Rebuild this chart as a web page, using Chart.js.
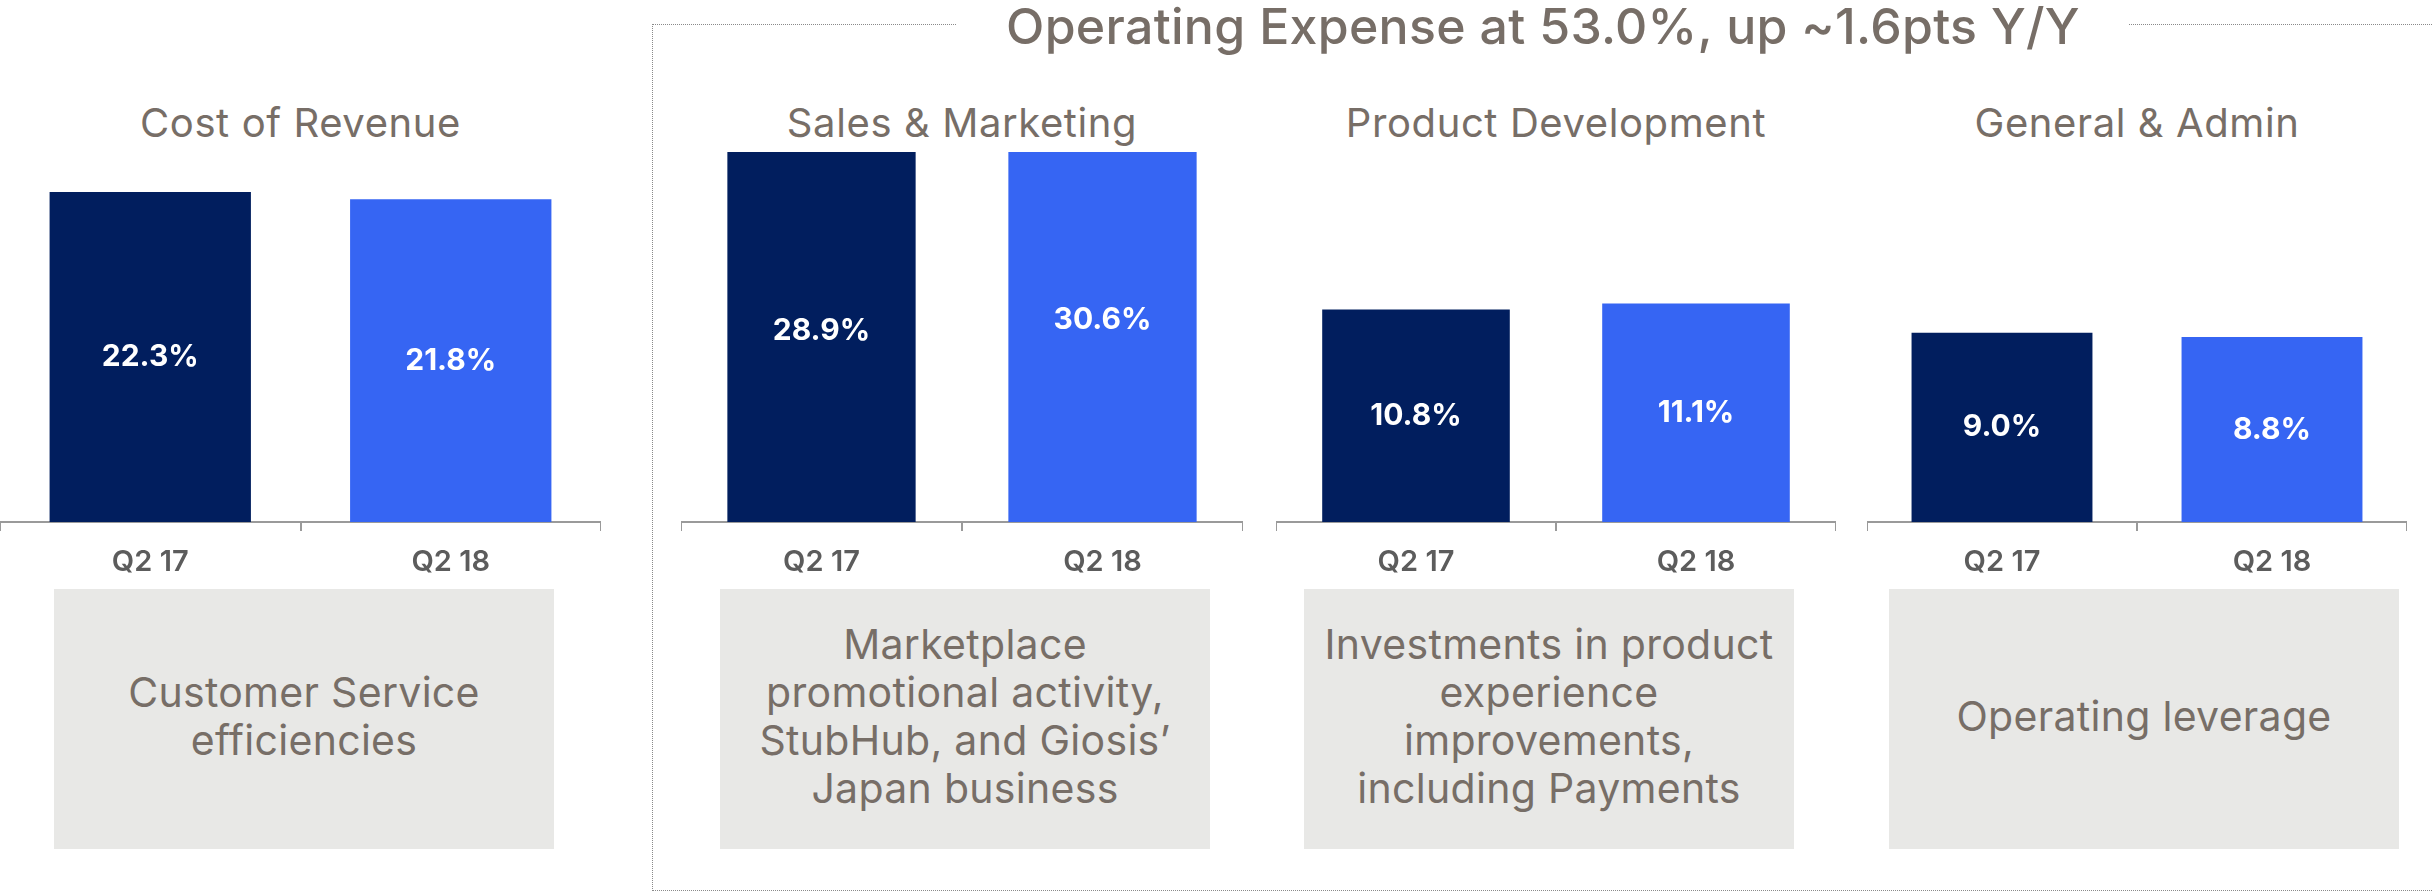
<!DOCTYPE html>
<html>
<head>
<meta charset="utf-8">
<script src="https://cdn.jsdelivr.net/npm/chart.js@4"></script>
<style>
  html, body { margin: 0; padding: 0; background: #fff; }
  body { width: 2432px; height: 893px; position: relative; overflow: hidden; font-family: Inter, 'Noto Sans', sans-serif; }
  .abs { position: absolute; }
  .frame { left: 652px; top: 24px; width: 1900px; height: 867px; border: 1px dotted #8a8a8a; box-sizing: border-box; }
  .headline { top: 1px; left: 957px; width: 1172px; height: 50px; background: #fff; text-align: center;
    font-size: 50px; line-height: 50px; font-weight: 500; letter-spacing: 0.3px; color: #776e67; white-space: nowrap; }
  .ptitle { top: 103px; width: 600px; text-align: center; font-size: 40px; line-height: 40px; letter-spacing: 0.6px; color: #776e67; white-space: nowrap; }
  .note { top: 589px; height: 260px; background: #e8e8e6; display: flex; align-items: center; justify-content: center;
    box-sizing: border-box; padding-bottom: 6px;
    text-align: center; font-size: 41px; line-height: 48px; letter-spacing: 0.3px; color: #776e67; }
  .chartbox { top: 152px; height: 430px; }
</style>
</head>
<body>
<div class="abs frame"></div>
<div class="abs headline" id="headline"></div>
<div id="panels"></div>
<script>
// data
const periods = ['Q2 17', 'Q2 18'];
const costOfRevenue = [22.3, 21.8];
const salesMarketing = [28.9, 30.6];
const productDevelopment = [10.8, 11.1];
const generalAdmin = [9.0, 8.8];

const headline = 'Operating Expense at 53.0%, up ~1.6pts Y/Y';
const panelTitles = ['Cost of Revenue', 'Sales & Marketing', 'Product Development', 'General & Admin'];
const panelNotes = [
  ['Customer Service', 'efficiencies'],
  ['Marketplace', 'promotional activity,', 'StubHub, and Giosis\u2019', 'Japan business'],
  ['Investments in product', 'experience', 'improvements,', 'including Payments'],
  ['Operating leverage']
];
const panelValues = [costOfRevenue, salesMarketing, productDevelopment, generalAdmin];

// layout of each panel: axis left/width, y max, note box
const panelLayout = [
  { left: 0,    width: 601, yMax: 25,   noteLeft: 54,   noteWidth: 500 },
  { left: 681,  width: 562, yMax: 28,   noteLeft: 720,  noteWidth: 490 },
  { left: 1276, width: 560, yMax: 18.8, noteLeft: 1304, noteWidth: 490 },
  { left: 1867, width: 540, yMax: 17.6, noteLeft: 1889, noteWidth: 510 }
];

const barColors = ['#011e5e', '#3665f3'];
const axisGrey = '#9a9a9a';

document.getElementById('headline').textContent = headline;

// value labels in the middle of each bar
const valueLabels = {
  id: 'valueLabels',
  afterDatasetsDraw(chart) {
    const ctx = chart.ctx;
    const meta = chart.getDatasetMeta(0);
    const data = chart.data.datasets[0].data;
    ctx.save();
    ctx.fillStyle = '#ffffff';
    ctx.font = '700 30px Inter';
    ctx.textAlign = 'center';
    ctx.textBaseline = 'middle';
    meta.data.forEach((bar, i) => {
      ctx.fillText(data[i].toFixed(1) + '%', bar.x, (bar.y + bar.base) / 2);
    });
    ctx.restore();
  }
};

const panels = document.getElementById('panels');

panelLayout.forEach((p, i) => {
  const title = document.createElement('div');
  title.className = 'abs ptitle';
  title.style.left = (p.left + p.width / 2 - 300) + 'px';
  title.textContent = panelTitles[i];
  panels.appendChild(title);

  const note = document.createElement('div');
  note.className = 'abs note';
  note.style.left = p.noteLeft + 'px';
  note.style.width = p.noteWidth + 'px';
  note.innerHTML = '<div>' + panelNotes[i].join('<br>') + '</div>';
  panels.appendChild(note);

  const box = document.createElement('div');
  box.className = 'abs chartbox';
  box.style.left = p.left + 'px';
  box.style.width = p.width + 'px';
  const canvas = document.createElement('canvas');
  box.appendChild(canvas);
  panels.appendChild(box);

  new Chart(canvas.getContext('2d'), {
    type: 'bar',
    data: {
      labels: periods,
      datasets: [{
        data: panelValues[i],
        backgroundColor: barColors,
        borderWidth: 0,
        barPercentage: 0.67,
        categoryPercentage: 1,
        clip: 0
      }]
    },
    options: {
      responsive: true,
      maintainAspectRatio: false,
      animation: false,
      layout: { padding: 0 },
      plugins: {
        legend: { display: false },
        tooltip: { enabled: false }
      },
      scales: {
        x: {
          offset: true,
          grid: { offset: true, drawOnChartArea: false, drawTicks: true, tickLength: 9, color: axisGrey, lineWidth: 2 },
          border: { display: true, color: axisGrey, width: 2 },
          ticks: { color: '#5c5c5c', padding: 14, font: { family: 'Inter', size: 29, weight: '600' } },
          afterFit: (scale) => { scale.height = 60; }
        },
        y: { display: false, min: 0, max: p.yMax }
      }
    },
    plugins: [valueLabels]
  });
});
</script>
</body>
</html>
